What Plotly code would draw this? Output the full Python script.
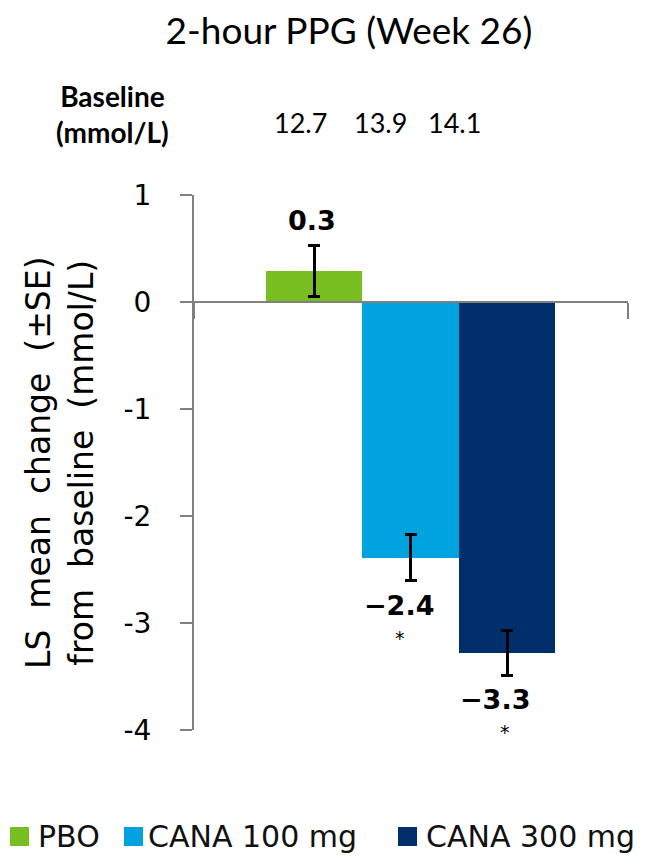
import plotly.graph_objects as go

# ---- data ----
groups = ["PBO", "CANA 100 mg", "CANA 300 mg"]
ls_mean_change = [0.29, -2.39, -3.28]
se = [0.234, 0.215, 0.21]
value_labels = ["0.3", "\u22122.4", "\u22123.3"]
significant = [False, True, True]
baseline_values = ["12.7", "13.9", "14.1"]
baseline_label = "Baseline<br>(mmol/L)"
colors = ["#78BE20", "#00A3E0", "#002F6C"]
y_ticks = [1, 0, -1, -2, -3, -4]

x_range = [-1.244, 3.254]

# plot-area geometry in pixels (for placing text outside the axes)
L, R, T, B = 194, 22, 195, 127
W, H = 650, 857
PW, PH = W - L - R, H - T - B


def px(xp):
    return (xp - L) / PW


def py(yp):
    return (H - B - yp) / PH


fig = go.Figure()
for i, (g, v, e, c) in enumerate(zip(groups, ls_mean_change, se, colors)):
    fig.add_trace(go.Bar(
        x=[i], y=[v], name=g, width=1.0,
        marker=dict(color=c, line=dict(width=0)),
        error_y=dict(type="data", array=[e], visible=True,
                     color="black", thickness=3, width=6),
        showlegend=False,
    ))

annotations = []
shapes = []
label_font = dict(family="DejaVu Sans", size=27, color="black")
star_shift = {1: -11, 2: -2}
for i, (v, e, lab, sig) in enumerate(zip(ls_mean_change, se, value_labels, significant)):
    if v >= 0:
        annotations.append(dict(x=i, y=v + e, xref="x", yref="y", text=f"<b>{lab}</b>",
                                showarrow=False, yanchor="bottom", yshift=8, xshift=-2,
                                font=label_font))
    else:
        annotations.append(dict(x=i, y=v - e, xref="x", yref="y", text=f"<b>{lab}</b>",
                                showarrow=False, yanchor="top", yshift=-7, xshift=-12,
                                font=label_font))
        if sig:
            annotations.append(dict(x=i, y=v - e, xref="x", yref="y", text="*",
                                    showarrow=False, yanchor="middle", yshift=-57,
                                    xshift=star_shift.get(i, 0),
                                    font=dict(family="DejaVu Sans", size=19, color="black")))

# baseline row
annotations.append(dict(x=px(112), y=py(114), xref="paper", yref="paper",
                        text=f"<b>{baseline_label}</b>", showarrow=False,
                        xanchor="center", yanchor="middle", align="center",
                        font=dict(family="Lato", size=28, color="black")))
base_x = [300, 380, 454]
for bx, bv in zip(base_x, baseline_values):
    annotations.append(dict(x=px(bx), y=py(123), xref="paper", yref="paper", text=bv,
                            showarrow=False, xanchor="center", yanchor="middle",
                            font=dict(family="Lato", size=27, color="black")))

# y-axis title
nb = "\u00a0"
line1 = f"LS{nb}{nb}mean{nb}{nb}change{nb}{nb}(\u00b1SE)"
line2 = f"from{nb}{nb}baseline{nb}{nb}(mmol/L)"
annotations.append(dict(x=px(60), y=py(463), xref="paper", yref="paper",
                        text=f"{line1}<br>{line2}",
                        textangle=-90, showarrow=False, xanchor="center", yanchor="middle",
                        font=dict(family="DejaVu Sans", size=33, color="black")))

# manual legend
leg_sq_x = [10, 124, 398]
leg_txt_x = [36, 146, 424]
leg_y = 836
for g, c, sx, tx in zip(groups, colors, leg_sq_x, leg_txt_x):
    shapes.append(dict(type="rect", xref="paper", yref="paper",
                       x0=px(sx), x1=px(sx + 19), y0=py(leg_y + 10), y1=py(leg_y - 9),
                       fillcolor=c, line=dict(width=0)))
    annotations.append(dict(x=px(tx), y=py(leg_y), xref="paper", yref="paper", text=g,
                            showarrow=False, xanchor="left", yanchor="middle",
                            font=dict(family="DejaVu Sans", size=30, color="#111111")))

fig.update_layout(
    width=W, height=H,
    margin=dict(l=L, r=R, t=T, b=B),
    paper_bgcolor="white", plot_bgcolor="white",
    title=dict(text="2-hour PPG (Week 26)", x=349 / W, xanchor="center",
               y=1 - 31 / H, yanchor="middle",
               font=dict(family="Lato", size=37, color="black")),
    bargap=0, barmode="overlay",
    xaxis=dict(range=x_range, showgrid=False, zeroline=False, showline=True,
               linecolor="#808080", linewidth=1.5, anchor="free",
               position=py(302),
               tickvals=x_range, ticks="outside", ticklen=16, tickwidth=1.5,
               tickcolor="#808080", showticklabels=False, fixedrange=True),
    yaxis=dict(range=[-4, 1], tickvals=y_ticks,
               ticktext=[str(t) for t in y_ticks],
               showgrid=False, zeroline=False, showline=True, linecolor="#808080",
               linewidth=2, ticks="outside", ticklen=12, tickwidth=1.5,
               tickcolor="#808080", ticklabelstandoff=23,
               tickfont=dict(family="DejaVu Sans", size=28, color="black")),
    annotations=annotations,
    shapes=shapes,
    showlegend=False,
)

fig.write_html("out.html")
